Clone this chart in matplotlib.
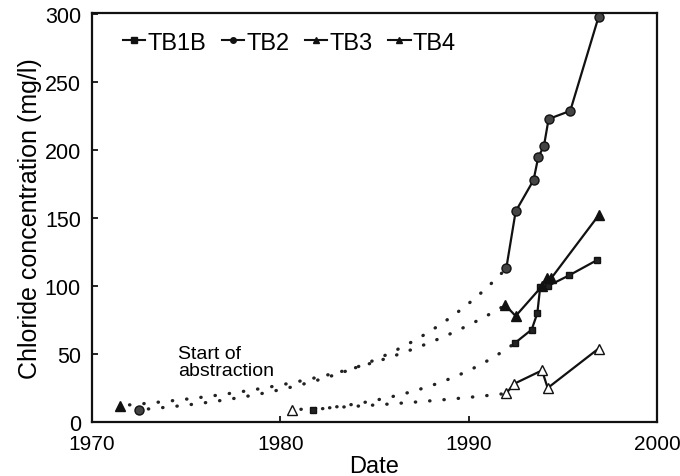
import numpy as np
import matplotlib
matplotlib.use("Agg")
import matplotlib.pyplot as plt
from matplotlib.lines import Line2D

plt.rcParams['font.family'] = ['Liberation Sans', 'DejaVu Sans']

# Data (year, chloride mg/l); first point is the pre-abstraction value
tb1b_years = [1981.75, 1992.45, 1993.35, 1993.65, 1993.8, 1994.2, 1995.35, 1996.8]
tb1b_vals = [9, 58, 68, 80, 99, 100, 108, 119]
tb2_years = [1972.5, 1992.0, 1992.5, 1993.45, 1993.7, 1994.0, 1994.25, 1995.4, 1996.9]
tb2_vals = [9, 113, 155, 178, 195, 203, 223, 229, 298]
tb3_years = [1971.5, 1991.95, 1992.5, 1993.9, 1994.15, 1994.4, 1996.9]
tb3_vals = [12, 86, 78, 100, 106, 106, 152]
tb4_years = [1980.6, 1992.0, 1992.4, 1993.9, 1994.2, 1996.9]
tb4_vals = [9, 21, 28, 38, 25, 54]

series_names = ["TB1B", "TB2", "TB3", "TB4"]
x_ticks = [1970, 1980, 1990, 2000]
y_ticks = [0, 50, 100, 150, 200, 250, 300]

fig = plt.figure(figsize=(6.8, 4.77), dpi=100)
ax = fig.add_axes([0.1353, 0.1132, 0.966 - 0.1353, 0.9706 - 0.1132])

styles = [
    dict(marker='s', mfc='#222222', mec='#111111', ms=5),
    dict(marker='o', mfc='#444444', mec='#111111', ms=6.5),
    dict(marker='^', mfc='#111111', mec='#111111', ms=6.5),
    dict(marker='^', mfc='white', mec='#111111', ms=6.5),
]
all_data = [(tb1b_years, tb1b_vals), (tb2_years, tb2_vals),
            (tb3_years, tb3_vals), (tb4_years, tb4_vals)]

for (yrs, vals), st in zip(all_data, styles):
    yrs = np.array(yrs, dtype=float)
    vals = np.array(vals, dtype=float)
    # dotted connecting curve (exponential growth) between start and first measured point
    t = np.linspace(yrs[0], yrs[1], 200)
    k = np.log(vals[1] / vals[0]) / (yrs[1] - yrs[0])
    curve = vals[0] * np.exp(k * (t - yrs[0]))
    ax.plot(t, curve, color='#222222', lw=2.4, linestyle=(1.5, (0.1, 4.2)),
            dash_capstyle='round', zorder=2)
    ax.plot(yrs[1:], vals[1:], color='#111111', lw=1.6, zorder=3, **st)
    ax.plot(yrs[:1], vals[:1], linestyle='none', zorder=3, **st)

ax.set_xlim(1970, 2000)
ax.set_ylim(0, 301)
ax.set_xticks(x_ticks)
ax.set_yticks(y_ticks)
ax.tick_params(direction='in', length=4, width=1.2)
ax.tick_params(axis='x', labelsize=15, pad=8.5)
ax.tick_params(axis='y', labelsize=15.5, pad=8)
for s in ax.spines.values():
    s.set_linewidth(1.6)
    s.set_color('#111111')

ax.set_xlabel("Date", fontsize=17)
ax.xaxis.set_label_coords(0.5, -0.107)
ax.xaxis.label.set_va('center')
ax.set_ylabel("Chloride concentration (mg/l)", fontsize=18, labelpad=2)

ax.text(1974.55, 56.5, "Start of\nabstraction", fontsize=14, ha='left', va='top',
        linespacing=0.98)

handles = []
for name, st in zip(series_names, styles):
    handles.append(Line2D([], [], color='#111111', lw=1.5, marker=st['marker'],
                          mfc='#111111', mec='#111111', ms=4))
ax.legend(handles, series_names, ncol=4, loc='upper left', frameon=False,
          fontsize=17, handlelength=0.95, handletextpad=0.1, columnspacing=0.65,
          bbox_to_anchor=(0.025, 0.995), borderaxespad=0.3)

fig.savefig("out.png", dpi=100)
